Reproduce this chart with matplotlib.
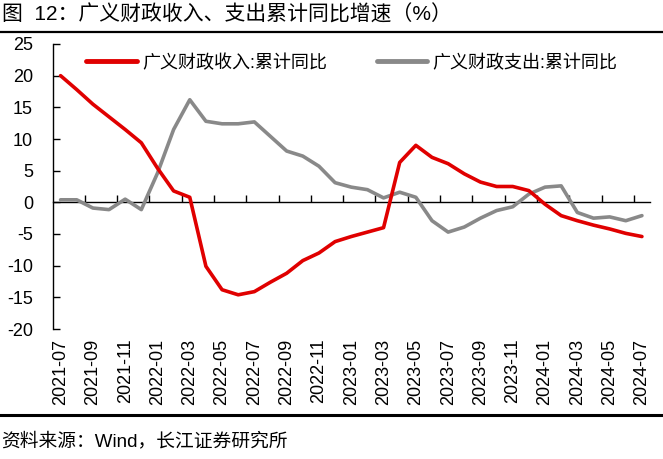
import matplotlib
matplotlib.use("Agg")
import matplotlib.pyplot as plt
from matplotlib.lines import Line2D

plt.rcParams['font.family'] = ['Liberation Sans', 'Noto Sans CJK SC', 'DejaVu Sans']
plt.rcParams['axes.unicode_minus'] = False

months = ["2021-07", "2021-08", "2021-09", "2021-10", "2021-11", "2021-12",
          "2022-01", "2022-02", "2022-03", "2022-04", "2022-05", "2022-06",
          "2022-07", "2022-08", "2022-09", "2022-10", "2022-11", "2022-12",
          "2023-01", "2023-02", "2023-03", "2023-04", "2023-05", "2023-06",
          "2023-07", "2023-08", "2023-09", "2023-10", "2023-11", "2023-12",
          "2024-01", "2024-02", "2024-03", "2024-04", "2024-05", "2024-06",
          "2024-07"]

revenue = [20.0, 17.8, 15.5, 13.5, 11.5, 9.4, 5.4, 1.8, 0.8, -10.1, -13.8, -14.6,
           -14.1, -12.6, -11.2, -9.2, -8.0, -6.2, -5.4, -4.7, -4.0, 6.3, 9.0, 7.1,
           6.1, 4.5, 3.2, 2.5, 2.5, 1.85, -0.3, -2.1, -2.9, -3.6, -4.2, -4.9, -5.4]

spending = [0.4, 0.4, -0.9, -1.15, 0.5, -1.15, 4.6, 11.5, 16.2, 12.8, 12.4, 12.4,
            12.7, 10.4, 8.1, 7.3, 5.7, 3.1, 2.4, 2.0, 0.7, 1.6, 0.8, -2.9,
            -4.7, -3.9, -2.5, -1.3, -0.7, 1.3, 2.4, 2.6, -1.6, -2.5, -2.3, -2.9, -2.1]

rev_label = "广义财政收入:累计同比"
spd_label = "广义财政支出:累计同比"
title = "图  12：广义财政收入、支出累计同比增速（%）"
source = "资料来源：Wind，长江证券研究所"

W, H = 663, 459
fig = plt.figure(figsize=(W / 100, H / 100), dpi=100)
left, right, top, bottom = 52.5, 650, 44, 329
ax = fig.add_axes([left / W, 1 - bottom / H, (right - left) / W, (bottom - top) / H])

x = list(range(len(months)))
ax.plot(x, revenue, color="#E00000", lw=2.6, solid_joinstyle="round",
        solid_capstyle="round", label=rev_label, zorder=3)
ax.plot(x, spending, color="#898989", lw=2.6, solid_joinstyle="round",
        solid_capstyle="round", label=spd_label, zorder=2)

ax.set_xlim(-0.5, len(months) - 0.5)
ax.set_ylim(-20, 25)
ax.set_yticks(range(-20, 30, 5))
ax.tick_params(axis="y", direction="in", length=5, width=1, pad=14,
               labelsize=13, colors="black")

ax.set_xticks(x[::2])
ax.set_xticklabels(months[::2], rotation=90)
ax.tick_params(axis="x", length=0, pad=7, labelsize=13)

for s in ["top", "right", "bottom"]:
    ax.spines[s].set_visible(False)
ax.spines["left"].set_linewidth(1)
ax.spines["left"].set_color("black")

# zero line with category tick marks
sec = ax.secondary_xaxis(20 / 45)
sec.set_xticks([i + 1.5 for i in range(0, len(months) - 1, 2)])
sec.tick_params(axis="x", direction="in", length=5, width=1,
                labelbottom=False, labeltop=False, bottom=True, top=False)
for s in sec.spines.values():
    s.set_linewidth(1)
    s.set_color("black")

leg = fig.legend(loc="center left", bbox_to_anchor=(86 / W, 1 - 63 / H), ncol=2,
                 frameon=False, fontsize=13, handlelength=2.8, handletextpad=0.3,
                 columnspacing=2.75, borderpad=0, borderaxespad=0)
for h in leg.get_lines():
    h.set_linewidth(3.5)

fig.text(2 / W, 1 - 15 / H, title, fontsize=15, va="center", ha="left")
fig.add_artist(Line2D([0, 1], [1 - 31.5 / H, 1 - 31.5 / H], transform=fig.transFigure,
                      color="black", lw=1.6))
fig.add_artist(Line2D([0, 1], [1 - 415 / H, 1 - 415 / H], transform=fig.transFigure,
                      color="black", lw=2.2))
fig.text(1 / W, 1 - 441 / H, source, fontsize=13.5, va="center", ha="left")

fig.savefig("out.png", dpi=100)
